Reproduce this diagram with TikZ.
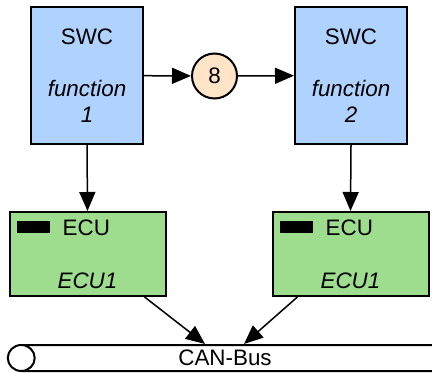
\documentclass[tikz,border=0pt]{standalone}
\usepackage{fontspec}
\setmainfont{Liberation Sans}
\usetikzlibrary{positioning, arrows.meta, shapes.geometric}

\definecolor{swcblue}{RGB}{176,210,255}
\definecolor{ecugreen}{RGB}{158,220,142}
\definecolor{msgpeach}{RGB}{255,228,200}

\begin{document}
\begin{tikzpicture}[x=0.5pt, y=-0.5pt,
    every node/.style={font=\fontsize{11.2}{13}\selectfont},
    swcbox/.style={draw, line width=1pt, fill=swcblue, minimum width=56pt, minimum height=68.5pt, align=center, inner sep=0pt},
    ecubox/.style={draw, line width=1pt, fill=ecugreen, minimum width=78pt, minimum height=42pt, inner sep=0pt},
    ecubar/.style={fill=black, minimum width=16.5pt, minimum height=6pt, inner sep=0pt},
    msgnode/.style={draw, line width=1pt, circle, fill=msgpeach, minimum size=22.5pt, inner sep=0pt},
    link/.style={line width=0.75pt, -{Triangle[length=9.5pt, width=8pt]}}]
    \useasboundingbox (0,0) rectangle (432,373);
    \clip (0,0) rectangle (432,373);

    \node[swcbox] (swcA) at (87,75.5) {SWC\\[13pt]\textit{function}\\\textit{1}};
    \node[swcbox] (swcB) at (351,75.5) {SWC\\[13pt]\textit{function}\\\textit{2}};
    \node[msgnode] (msg) at (214.5,76) {8};

    \node[ecubox] (ecuA) at (87.5,254) {};
    \node[ecubox] (ecuB) at (350.5,254) {};
    \node[ecubar, below right=5pt and 4pt of ecuA.north west] (barA) {};
    \node[ecubar, below right=5pt and 4pt of ecuB.north west] (barB) {};
    \node[right=6pt of barA, inner sep=0pt] (nameA) {ECU};
    \node[right=6pt of barB, inner sep=0pt] (nameB) {ECU};
    \node[above=4pt of ecuA.south, inner sep=0pt] (idA) {\textit{ECU1}};
    \node[above=4pt of ecuB.south, inner sep=0pt] (idB) {\textit{ECU1}};

    \node[draw, line width=1pt, cylinder, shape border rotate=180, aspect=1.7, minimum height=220pt, minimum width=13pt, inner sep=0pt,
        label={[xshift=-5pt, inner sep=0pt]center:CAN-Bus}] (bus) at (235,358) {\vphantom{CAN-Bus}};

    \draw[link] (swcA) -- (msg);
    \draw[link] (msg) -- (swcB);
    \draw[link] (swcA.south) -- (ecuA.north);
    \draw[link] (swcB.south) -- (ecuB.north);
    \draw[link] (ecuA.-37) -- ([xshift=-15pt]bus.north);
    \draw[link] (ecuB.-141) -- ([xshift=4.5pt]bus.north);
\end{tikzpicture}
\end{document}
